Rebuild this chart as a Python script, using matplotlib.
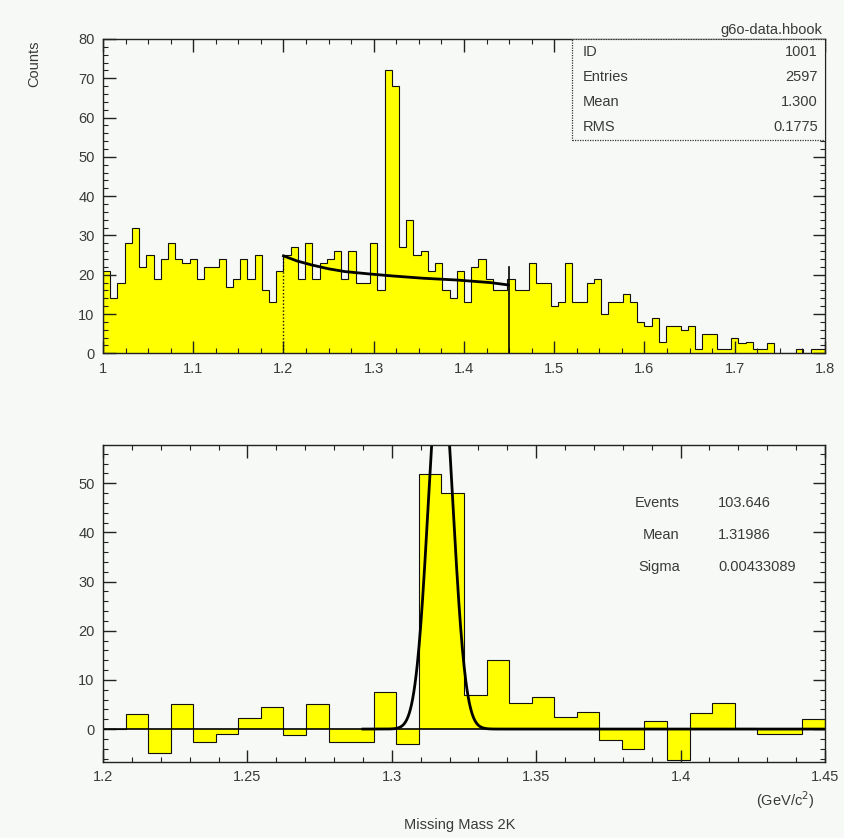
"""PAW-style missing mass histogram: raw spectrum with background fit (top),
background-subtracted peak with gaussian fit (bottom)."""

import matplotlib
matplotlib.use("Agg")
import matplotlib.pyplot as plt
from matplotlib.ticker import MultipleLocator, FormatStrFormatter
import numpy as np

# ---- top panel: 100 bins from 1.0 to 1.8 ----
top_lo, top_hi, top_nbins = 1.0, 1.8, 100
top_counts = [
    21, 14, 18, 28, 32, 22, 25, 19, 24, 28,
    24, 23, 24, 19, 22, 22, 24, 17, 19, 24,
    19, 25, 16, 13, 21, 25, 27, 19, 28, 19,
    23, 24, 26, 19, 26, 18, 18, 28, 16, 72,
    68, 27, 34, 25, 26, 21, 23, 16, 14, 21,
    13, 22, 24, 19, 16, 16, 19, 16, 16, 23,
    18, 18, 12, 13, 23, 13, 13, 18, 19, 10,
    13, 13, 15, 13, 8, 7, 9, 3, 7, 7,
    6, 7, 1, 5, 5, 1, 1, 4, 2.5, 3,
    1, 1, 2.5, 0, 0, 0, 1, 0, 1, 1,
]
# background fit (x, counts)
fit_x = [1.200, 1.215, 1.231, 1.250, 1.268, 1.295, 1.320, 1.355, 1.392, 1.429, 1.449]
fit_y = [24.8, 23.5, 22.5, 21.5, 20.8, 20.2, 19.7, 19.1, 18.65, 18.0, 17.4]
fit_lo, fit_hi = 1.2, 1.45
fit_lo_height, fit_hi_height = 25, 22
stats_top = [("ID", "1001"), ("Entries", "2597"), ("Mean", "1.300"), ("RMS", "0.1775")]

# ---- bottom panel: 32 bins from 1.2 to 1.45, background subtracted ----
bot_lo, bot_hi, bot_nbins = 1.2, 1.45, 32
bot_counts = [
    0, 3, -4.8, 5.0, -2.7, -1.0, 2.2, 4.4, -1.2, 5.0,
    -2.7, -2.7, 7.5, -3.1, 51.9, 48.0, 6.9, 14.1, 5.4, 6.5,
    2.5, 3.5, -2.2, -4.1, 1.7, -6.3, 3.2, 5.4, 0.3, -1.1,
    -1.1, 2.0,
]
gaus_events, gaus_sigma = 103.646, 0.00433089
gaus_mean_drawn = 1.3169   # where the curve sits on the plotted axis
stats_bot = [("Events", "103.646"), ("Mean", "1.31986"), ("Sigma", "0.00433089")]

bg = "#f6f9f6"
fill = "#ffff00"
txt = "#3a3a3a"
plt.rcParams["font.family"] = ["Liberation Sans", "DejaVu Sans"]
plt.rcParams["font.size"] = 10.5

fig = plt.figure(figsize=(8.45, 8.38), dpi=100)
fig.patch.set_facecolor(bg)

ax1 = fig.add_axes([0.1219, 0.5784, 0.8544, 0.3751])
ax2 = fig.add_axes([0.1219, 0.0907, 0.8544, 0.3783])


def style(ax):
    ax.set_facecolor(bg)
    for s in ax.spines.values():
        s.set_linewidth(1.0)
        s.set_color("#222222")
    ax.tick_params(which="both", direction="in", top=True, right=True,
                   colors="#222222", labelcolor=txt, labelsize=10.5, pad=6)
    ax.tick_params(which="major", length=9, width=1.0)
    ax.tick_params(which="minor", length=3.5, width=0.8)


# top
edges_top = np.linspace(top_lo, top_hi, top_nbins + 1)
ax1.stairs(top_counts, edges_top, fill=True, color=fill, baseline=0)
ax1.stairs(top_counts, edges_top, color="#111111", lw=0.8, baseline=0)
ax1.plot(fit_x, fit_y, color="black", lw=2.0)
ax1.plot([fit_lo, fit_lo], [0, fit_lo_height], color="#111111", lw=1.0, ls=(0, (1, 1.5)))
ax1.plot([fit_hi, fit_hi], [0, fit_hi_height], color="black", lw=1.2)
ax1.set_xlim(top_lo, top_hi)
ax1.set_ylim(0, 80)
ax1.xaxis.set_major_locator(MultipleLocator(0.1))
ax1.xaxis.set_minor_locator(MultipleLocator(0.025))
ax1.yaxis.set_major_locator(MultipleLocator(10))
ax1.yaxis.set_minor_locator(MultipleLocator(2))
ax1.xaxis.set_major_formatter(FormatStrFormatter("%g"))
style(ax1)

# stats box
box = plt.Rectangle((0.65, 0.679), 0.35, 0.321, transform=ax1.transAxes,
                    facecolor=bg, edgecolor="#333333", lw=0.9, ls=(0, (1, 1)), zorder=5)
ax1.add_patch(box)
for i, (k, v) in enumerate(stats_top):
    y = 0.959 - i * 0.0795
    ax1.text(0.665, y, k, transform=ax1.transAxes, ha="left", va="center", color=txt, zorder=6)
    ax1.text(0.990, y, v, transform=ax1.transAxes, ha="right", va="center", color=txt, zorder=6)

# bottom
edges_bot = np.linspace(bot_lo, bot_hi, bot_nbins + 1)
bin_w = (bot_hi - bot_lo) / bot_nbins
ax2.stairs(bot_counts, edges_bot, fill=True, color=fill, baseline=0)
ax2.stairs(bot_counts, edges_bot, color="#111111", lw=0.8, baseline=0)
ax2.axhline(0, color="black", lw=1.2)
gaus_amp = gaus_events * bin_w / (gaus_sigma * np.sqrt(2 * np.pi))
xg = np.linspace(1.29, 1.45, 800)
ax2.plot(xg, gaus_amp * np.exp(-0.5 * ((xg - gaus_mean_drawn) / gaus_sigma) ** 2),
         color="black", lw=2.0)
ax2.set_xlim(bot_lo, bot_hi)
ax2.set_ylim(-6.7, 57.8)
ax2.xaxis.set_major_locator(MultipleLocator(0.05))
ax2.xaxis.set_minor_locator(MultipleLocator(0.01))
ax2.yaxis.set_major_locator(MultipleLocator(10))
ax2.yaxis.set_minor_locator(MultipleLocator(2))
ax2.xaxis.set_major_formatter(FormatStrFormatter("%g"))
style(ax2)

for i, (k, v) in enumerate(stats_bot):
    y = 0.817 - i * 0.101
    ax2.text(0.799, y, k, transform=ax2.transAxes, ha="right", va="center", color=txt)
    ax2.text(0.852, y, v, transform=ax2.transAxes, ha="left", va="center", color=txt,
             clip_on=False)

fig.text(0.041, 0.952, "Counts", rotation=90, ha="center", va="top", color=txt)
fig.text(0.973, 0.964, "g6o-data.hbook", ha="right", va="center", color=txt)
fig.text(0.929, 0.045, "(GeV/c$^2$)", ha="center", va="center", color=txt)
fig.text(0.544, 0.016, "Missing Mass 2K", ha="center", va="center", color=txt)

fig.savefig("out.png", dpi=100, facecolor=bg)
